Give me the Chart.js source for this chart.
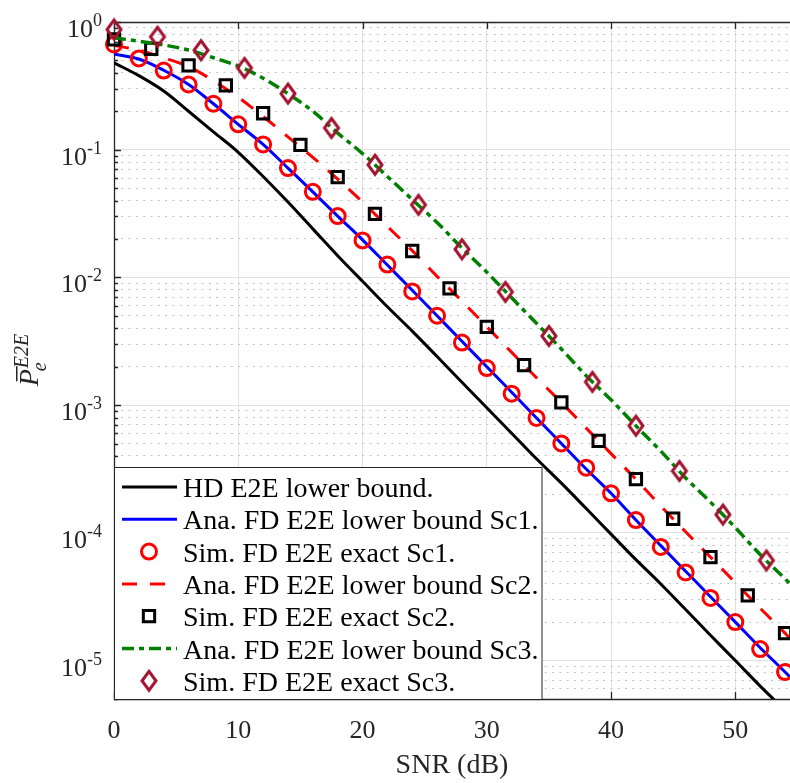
<!DOCTYPE html>
<html>
<head>
<meta charset="utf-8">
<script src="https://cdn.jsdelivr.net/npm/chart.js"></script>
<style>
  body { margin: 0; background: #fff; }
  canvas { display: block; }
</style>
</head>
<body>
<canvas id="berChart" width="790" height="783"></canvas>
<script>
// SNR grid of the analytical curves (dB)
const snrLine = [0, 2, 4, 6, 8, 10, 12, 14, 16, 18, 20, 22, 24, 26, 28, 30, 32, 34, 36, 38, 40, 42, 44, 46, 48, 50, 52, 54, 56];

const hdLower = [0.479, 0.380, 0.288, 0.200, 0.138, 0.0955, 0.0617, 0.0389, 0.0240, 0.0148,
    0.00933, 0.00589, 0.00380, 0.00240, 0.00151, 9.55e-4, 6.03e-4, 3.80e-4, 2.45e-4, 1.55e-4,
    9.77e-5, 6.17e-5, 3.98e-5, 2.51e-5, 1.58e-5, 1.0e-5, 6.31e-6, 4.07e-6, 2.57e-6];
const anaSc1 = [0.562, 0.513, 0.419, 0.324, 0.229, 0.158, 0.110, 0.0718, 0.0468, 0.0302,
    0.0197, 0.0125, 0.00794, 0.00501, 0.00316, 0.00200, 0.00126, 7.94e-4, 5.01e-4, 3.16e-4,
    2.04e-4, 1.26e-4, 7.94e-5, 5.01e-5, 3.16e-5, 2.0e-5, 1.26e-5, 8.13e-6, 5.13e-6];
const anaSc2 = [0.655, 0.603, 0.525, 0.447, 0.347, 0.257, 0.182, 0.126, 0.0871, 0.0589,
    0.0389, 0.0251, 0.0162, 0.0102, 0.00653, 0.00411, 0.00259, 0.00164, 0.00105, 6.61e-4,
    4.17e-4, 2.63e-4, 1.62e-4, 1.02e-4, 6.46e-5, 4.07e-5, 2.57e-5, 1.64e-5, 1.02e-5];
const anaSc3 = [0.752, 0.708, 0.661, 0.603, 0.525, 0.452, 0.363, 0.275, 0.200, 0.135,
    0.0933, 0.0617, 0.0407, 0.0269, 0.0170, 0.0110, 0.00692, 0.00437, 0.00275, 0.00170,
    0.00110, 6.89e-4, 4.37e-4, 2.69e-4, 1.74e-4, 1.10e-4, 6.76e-5, 4.37e-5, 2.75e-5];

// simulated points
const snrSc1 = [0, 2, 4, 6, 8, 10, 12, 14, 16, 18, 20, 22, 24, 26, 28, 30, 32, 34, 36, 38, 40, 42, 44, 46, 48, 50, 52, 54];
const simSc1 = [0.667, 0.518, 0.417, 0.324, 0.229, 0.158, 0.110, 0.0718, 0.0468, 0.0302,
    0.0195, 0.0126, 0.00776, 0.00501, 0.00309, 0.00195, 0.00123, 7.94e-4, 5.01e-4, 3.24e-4,
    2.04e-4, 1.26e-4, 7.76e-5, 4.90e-5, 3.09e-5, 2.0e-5, 1.23e-5, 8.13e-6];
const snrSc2 = [0, 3, 6, 9, 12, 15, 18, 21, 24, 27, 30, 33, 36, 39, 42, 45, 48, 51, 54];
const simSc2 = [0.73, 0.616, 0.458, 0.319, 0.193, 0.109, 0.061, 0.0315, 0.0161, 0.0082,
    0.0041, 0.00206, 0.00105, 5.25e-4, 2.63e-4, 1.29e-4, 6.46e-5, 3.24e-5, 1.64e-5];
const snrSc3 = [0, 3.5, 7, 10.5, 14, 17.5, 21, 24.5, 28, 31.5, 35, 38.5, 42, 45.5, 49, 52.5];
const simSc3 = [0.873, 0.766, 0.601, 0.437, 0.275, 0.148, 0.0762, 0.037, 0.0166, 0.0077,
    0.00348, 0.00152, 6.9e-4, 3.05e-4, 1.39e-4, 6.08e-5];

const xTicks = [0, 10, 20, 30, 40, 50];
const yDecades = [0, -1, -2, -3, -4, -5];
const labels = [
    'HD E2E lower bound.',
    'Ana. FD E2E lower bound Sc1.',
    'Sim. FD E2E exact Sc1.',
    'Ana. FD E2E lower bound Sc2.',
    'Sim. FD E2E exact Sc2.',
    'Ana. FD E2E lower bound Sc3.',
    'Sim. FD E2E exact Sc3.'
];

const SERIF = '"Liberation Serif", "Times New Roman", serif';
const AXIS_COLOR = '#262626';

function toPoints(xs, ys) {
    return xs.map((x, i) => ({ x: x, y: ys[i] }));
}

function isDecade(v) {
    const l = Math.log10(v);
    return Math.abs(l - Math.round(l)) < 1e-9;
}

function logGridValues(min, max) {
    const vals = [];
    for (let e = -6; e <= 0; e++) {
        for (let m = 1; m <= 9; m++) {
            const v = m * Math.pow(10, e);
            if (v >= min * 0.999 && v <= max * 1.001) vals.push(v);
        }
    }
    return vals;
}

function diamondMarker(color) {
    const c = document.createElement('canvas');
    c.width = 22;
    c.height = 28;
    const g = c.getContext('2d');
    g.strokeStyle = color;
    g.lineWidth = 3;
    g.lineJoin = 'miter';
    g.beginPath();
    g.moveTo(11, 4.5);
    g.lineTo(18, 14);
    g.lineTo(11, 23.5);
    g.lineTo(4, 14);
    g.closePath();
    g.stroke();
    return c;
}

function lineSet(label, data, color, width, dash, order) {
    return {
        label: label,
        data: toPoints(snrLine, data),
        borderColor: color,
        borderWidth: width,
        borderDash: dash,
        pointRadius: 0,
        fill: false,
        cubicInterpolationMode: 'monotone',
        order: order
    };
}

function markerSet(label, xs, ys, color, style, radius, order) {
    return {
        label: label,
        data: toPoints(xs, ys),
        showLine: false,
        borderColor: color,
        pointStyle: style,
        pointRadius: radius,
        pointBorderWidth: 3,
        pointBorderColor: color,
        pointBackgroundColor: 'rgba(0,0,0,0)',
        clip: false,
        order: order
    };
}

function drawMarker(ctx, ds, x, y) {
    const style = ds.pointStyle;
    if (typeof style === 'object') {
        ctx.drawImage(style, x - style.width / 2, y - style.height / 2);
        return;
    }
    ctx.save();
    ctx.strokeStyle = ds.pointBorderColor;
    ctx.lineWidth = ds.pointBorderWidth;
    ctx.beginPath();
    if (style === 'circle') {
        ctx.arc(x, y, ds.pointRadius, 0, Math.PI * 2);
    } else {
        const h = Math.SQRT1_2 * ds.pointRadius;
        ctx.rect(x - h, y - h, 2 * h, 2 * h);
    }
    ctx.stroke();
    ctx.restore();
}

const axesDecor = {
    id: 'axesDecor',
    beforeDatasetsDraw(chart) {
        const { ctx, chartArea: a, scales: { x, y } } = chart;
        ctx.save();
        ctx.strokeStyle = AXIS_COLOR;
        ctx.lineWidth = 1.3;

        // inward tick marks
        ctx.beginPath();
        y.ticks.forEach(t => {
            const py = Math.round(y.getPixelForValue(t.value)) + 0.5;
            const len = isDecade(t.value) ? 7 : 4;
            ctx.moveTo(a.left, py);
            ctx.lineTo(a.left + len, py);
        });
        xTicks.forEach(v => {
            const px = Math.round(x.getPixelForValue(v)) + 0.5;
            ctx.moveTo(px, a.bottom);
            ctx.lineTo(px, a.bottom - 7);
            ctx.moveTo(px, a.top);
            ctx.lineTo(px, a.top + 7);
        });
        ctx.stroke();

        // box (right side is cut off in the original)
        ctx.beginPath();
        ctx.moveTo(a.right, a.top + 0.5);
        ctx.lineTo(a.left + 0.5, a.top + 0.5);
        ctx.lineTo(a.left + 0.5, a.bottom + 0.5);
        ctx.lineTo(a.right, a.bottom + 0.5);
        ctx.stroke();

        ctx.fillStyle = AXIS_COLOR;
        ctx.textBaseline = 'alphabetic';

        // x tick labels
        ctx.font = '26px ' + SERIF;
        ctx.textAlign = 'center';
        xTicks.forEach(v => {
            ctx.fillText(String(v), x.getPixelForValue(v), a.bottom + 39);
        });

        // y tick labels 10^n
        ctx.textAlign = 'left';
        yDecades.forEach(e => {
            const py = y.getPixelForValue(Math.pow(10, e));
            const sup = String(e);
            ctx.font = '18px ' + SERIF;
            const wSup = ctx.measureText(sup).width;
            ctx.font = '26px ' + SERIF;
            const wBase = ctx.measureText('10').width;
            const supX = a.left - 12 - wSup;
            ctx.fillText('10', supX - wBase, py + 15);
            ctx.font = '18px ' + SERIF;
            ctx.fillText(sup, supX, py + 4);
        });

        // x title
        ctx.font = '28px ' + SERIF;
        ctx.textAlign = 'center';
        ctx.fillText('SNR (dB)', (a.left + a.right) / 2, 773);

        // y title: P-bar with sub e and sup E2E
        ctx.save();
        ctx.translate(38, (a.top + a.bottom) / 2);
        ctx.rotate(-Math.PI / 2);
        ctx.textAlign = 'left';
        ctx.font = 'italic 28px ' + SERIF;
        const wP = ctx.measureText('P').width;
        ctx.font = 'italic 20px ' + SERIF;
        const wE = ctx.measureText('E2E').width;
        const x0 = -(wP + wE) / 2;
        ctx.font = 'italic 28px ' + SERIF;
        ctx.fillText('P', x0, 0);
        ctx.fillRect(x0 + 5, -22, wP - 2, 1.5);
        ctx.font = 'italic 20px ' + SERIF;
        ctx.fillText('E2E', x0 + wP + 1, -10);
        ctx.fillText('e', x0 + wP - 2, 8);
        ctx.restore();

        ctx.restore();
    },
    afterDraw(chart) {
        const { ctx, chartArea: a } = chart;
        const box = { left: a.left + 0.5, top: 467.5, right: 542, bottom: a.bottom + 0.5 };
        ctx.save();
        ctx.fillStyle = '#ffffff';
        ctx.fillRect(box.left, box.top, box.right - box.left, box.bottom - box.top);
        ctx.strokeStyle = AXIS_COLOR;
        ctx.lineWidth = 1;
        ctx.strokeRect(box.left, box.top, box.right - box.left, box.bottom - box.top);

        ctx.font = '28px ' + SERIF;
        ctx.textAlign = 'left';
        ctx.textBaseline = 'alphabetic';
        chart.data.datasets.forEach((ds, i) => {
            const cy = 487 + 32.3 * i;
            if (ds.showLine === false) {
                drawMarker(ctx, ds, 149, cy);
            } else {
                ctx.save();
                ctx.strokeStyle = ds.borderColor;
                ctx.lineWidth = ds.borderWidth;
                ctx.setLineDash(ds.borderDash || []);
                ctx.beginPath();
                ctx.moveTo(122, cy);
                ctx.lineTo(177, cy);
                ctx.stroke();
                ctx.restore();
            }
            ctx.fillStyle = '#000000';
            ctx.fillText(ds.label, 183, cy + 10);
        });
        ctx.restore();
    }
};

new Chart(document.getElementById('berChart'), {
    type: 'line',
    data: {
        datasets: [
            lineSet(labels[0], hdLower, '#000000', 3, [], 6),
            lineSet(labels[1], anaSc1, '#0000ff', 3, [], 5),
            markerSet(labels[2], snrSc1, simSc1, '#ff0000', 'circle', 7.5, 4),
            lineSet(labels[3], anaSc2, '#ff0000', 3, [15, 13], 3),
            markerSet(labels[4], snrSc2, simSc2, '#000000', 'rect', 8, 2),
            lineSet(labels[5], anaSc3, '#008000', 3.5, [12, 5, 5, 5], 1),
            markerSet(labels[6], snrSc3, simSc3, '#a2142f', diamondMarker('#a2142f'), 9, 0)
        ]
    },
    options: {
        responsive: false,
        animation: false,
        devicePixelRatio: 1,
        layout: { autoPadding: false, padding: { top: 22, right: 0, bottom: 0, left: 0 } },
        plugins: {
            legend: { display: false },
            tooltip: { enabled: false }
        },
        scales: {
            x: {
                type: 'linear',
                min: 0,
                max: 54.4,
                afterBuildTicks: s => { s.ticks = xTicks.map(v => ({ value: v })); },
                afterFit: s => { s.height = 84; },
                ticks: { display: false },
                grid: { color: '#e0e0e0', lineWidth: 1, drawTicks: false },
                border: { display: false }
            },
            y: {
                type: 'logarithmic',
                min: 5e-6,
                max: 1,
                afterBuildTicks: s => { s.ticks = logGridValues(5e-6, 1).map(v => ({ value: v })); },
                afterFit: s => { s.width = 114; },
                ticks: { display: false },
                grid: {
                    color: c => (c.tick && isDecade(c.tick.value)) ? '#e0e0e0' : '#c2c2c2',
                    lineWidth: 1,
                    drawTicks: false
                },
                border: {
                    display: false,
                    dash: c => (c.tick && !isDecade(c.tick.value)) ? [2, 5.3] : []
                }
            }
        }
    },
    plugins: [axesDecor]
});
</script>
</body>
</html>
